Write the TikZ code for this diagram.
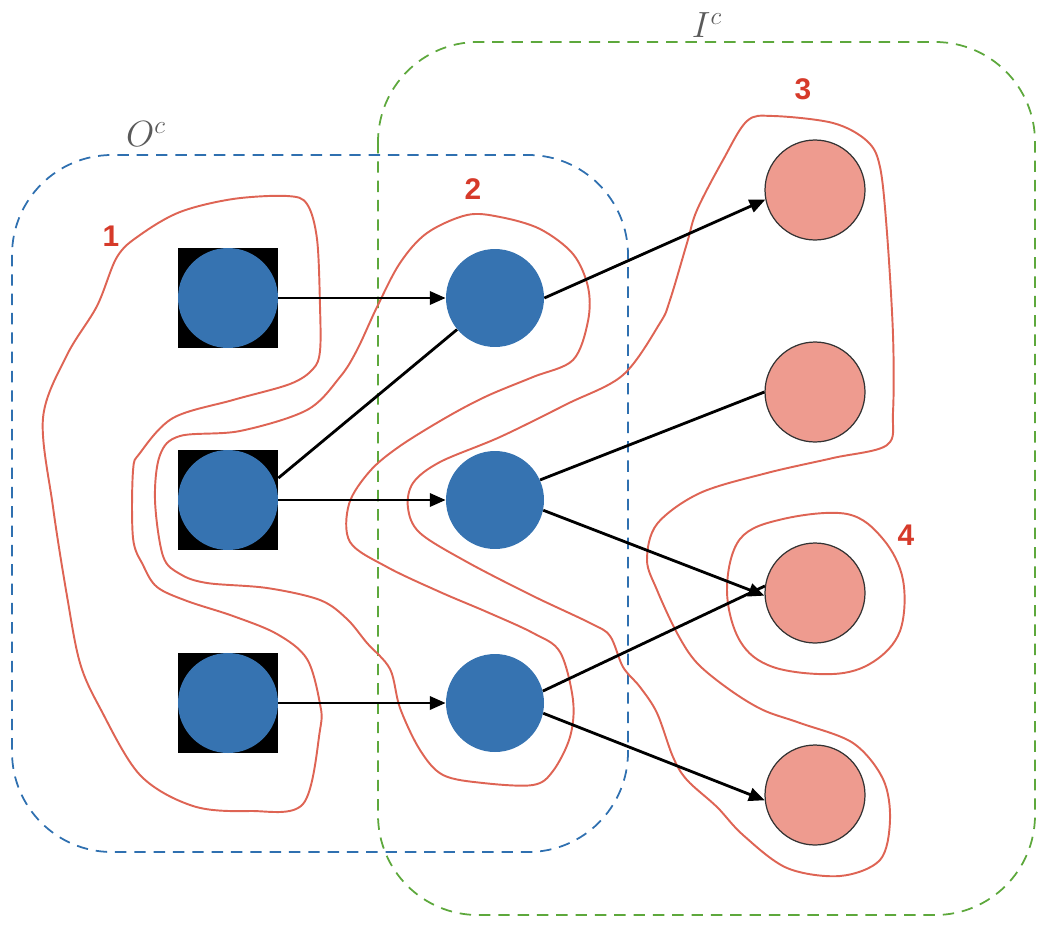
\documentclass[tikz,border=0pt]{standalone}
\usepackage{fontspec}
\newfontfamily\labfont{Liberation Sans}
\usetikzlibrary{arrows.meta}
\definecolor{nodeblue}{HTML}{3673B1}
\definecolor{nodepink}{HTML}{EE9B8F}
\definecolor{contourred}{HTML}{DE6454}
\definecolor{labred}{HTML}{D63A2A}
\definecolor{boxblue}{HTML}{2F70B0}
\definecolor{boxgreen}{HTML}{5DA83C}
\definecolor{setgray}{HTML}{5A5A5A}
\tikzset{
  sqbox/.style={rectangle, fill=black, minimum size=2cm, inner sep=0pt},
  srcdot/.style={circle, fill=nodeblue, minimum size=2cm, inner sep=0pt},
  middot/.style={circle, fill=nodeblue, minimum size=1.96cm, inner sep=0pt},
  sinkdot/.style={circle, fill=nodepink, draw=black!80, line width=0.7pt, minimum size=2cm, inner sep=0pt},
  edge/.style={line width=1.6pt, black},
  arr/.style={edge, -{Triangle[length=9pt,width=7.5pt]}},
  contour/.style={contourred, line width=1.1pt},
  setbox/.style={dash pattern=on 6.5pt off 4.5pt, line width=1pt, rounded corners=2cm},
  numlab/.style={font=\labfont\bfseries\fontsize{17}{17}\selectfont, text=labred, inner sep=0pt},
  setlab/.style={text=setgray, font=\fontsize{20}{24}\selectfont, inner sep=0pt}
}
\begin{document}
\begin{tikzpicture}[x=0.02cm,y=-0.02cm]
\useasboundingbox (0,0) rectangle (1050,926);

% set boxes
\draw[setbox, boxblue] (12,155) rectangle (628,852);
\draw[setbox, boxgreen] (378,42) rectangle (1035,915);
\node[setlab] (oc) at (146,134) {$O^{c}$};
\node[setlab] (ic) at (707,25) {$I^{c}$};

% contour 1
\draw[contour] plot[smooth cycle, tension=0.55] coordinates {
 (287,196) (307,204) (317,239) (320,306) (320,351) (313,369) (290,384) (233,400)
 (173,418) (140,453) (133,471) (133,538) (143,565) (157,587) (187,601) (233,616)
 (277,634) (307,659) (320,704) (320,730) (303,804) (250,811) (193,806) (140,775)
 (100,708) (80,663) (67,596) (53,507) (43,418) (67,355) (97,306) (117,257)
 (140,235) (180,212) (233,199)};

% contour 2
\draw[contour] plot[smooth cycle, tension=0.55] coordinates {
 (467,215) (500,217) (540,229) (573,254) (588,287) (588,321) (573,360) (533,377)
 (487,396) (447,417) (400,446) (370,471) (349,504) (350,542) (387,567) (440,592)
 (487,612) (533,633) (560,652) (573,700) (570,737) (553,771) (533,785) (483,783)
 (443,775) (420,750) (400,708) (390,669) (367,643) (347,619) (320,600) (267,588)
 (207,583) (180,574) (163,556) (155,500) (160,455) (180,436) (240,431) (307,410)
 (340,377) (357,350) (377,307) (400,263) (427,233)};

% contour 3
\draw[contour] plot[smooth cycle, tension=0.55] coordinates {
 (747,121) (773,116) (833,123) (867,141) (880,167) (887,233) (893,335) (893,412)
 (887,445) (833,458) (767,473) (700,493) (657,524) (647,560) (657,590) (677,633)
 (697,663) (730,690) (763,710) (800,723) (853,743) (883,779) (890,820) (880,860)
 (840,876) (787,868) (743,835) (717,807) (687,780) (673,757) (657,713) (640,687)
 (623,667) (610,636) (590,623) (533,596) (467,562) (420,533) (408,508) (413,483)
 (440,462) (500,437) (567,404) (623,375) (660,323) (670,300) (687,243) (697,210)
 (723,160)};

% contour 4
\draw[contour] plot[smooth cycle, tension=0.6] coordinates {
 (727,590) (740,539) (783,519) (847,514) (883,539) (903,580) (900,631) (873,662)
 (833,674) (773,667) (740,641)};

% group labels
\node[numlab] (n1) at (111,236) {1};
\node[numlab] (n2) at (473,189) {2};
\node[numlab] (n3) at (803,89) {3};
\node[numlab] (n4) at (906,535) {4};

% source nodes
\node[sqbox] (s1) at (228,298) {};
\node[srcdot] (d1) at (228,298) {};
\node[sqbox] (s2) at (228,500) {};
\node[srcdot] (d2) at (228,500) {};
\node[sqbox] (s3) at (228,703) {};
\node[srcdot] (d3) at (228,703) {};

% middle nodes
\node[middot] (m1) at (495,298) {};
\node[middot] (m2) at (495,500) {};
\node[middot] (m3) at (495,703) {};

% sink nodes
\node[sinkdot] (p1) at (815,190) {};
\node[sinkdot] (p2) at (815,392) {};
\node[sinkdot] (p3) at (815,593) {};
\node[sinkdot] (p4) at (815,795) {};

% edges
\draw[arr] (s1.east) -- (m1.west);
\draw[edge] ([yshift=12.5pt]s2.east) -- (m1);
\draw[arr] (s2.east) -- (m2.west);
\draw[arr] (s3.east) -- (m3.west);
\draw[arr] (m1.east) -- (p1.191);
\draw[edge] (m2.24) -- (p2.west);
\draw[arr] (m2.-12) -- (p3.183);
\draw[edge] (m3.14) -- (p3.172);
\draw[arr] (m3.-12) -- (p4.186);
\end{tikzpicture}
\end{document}
